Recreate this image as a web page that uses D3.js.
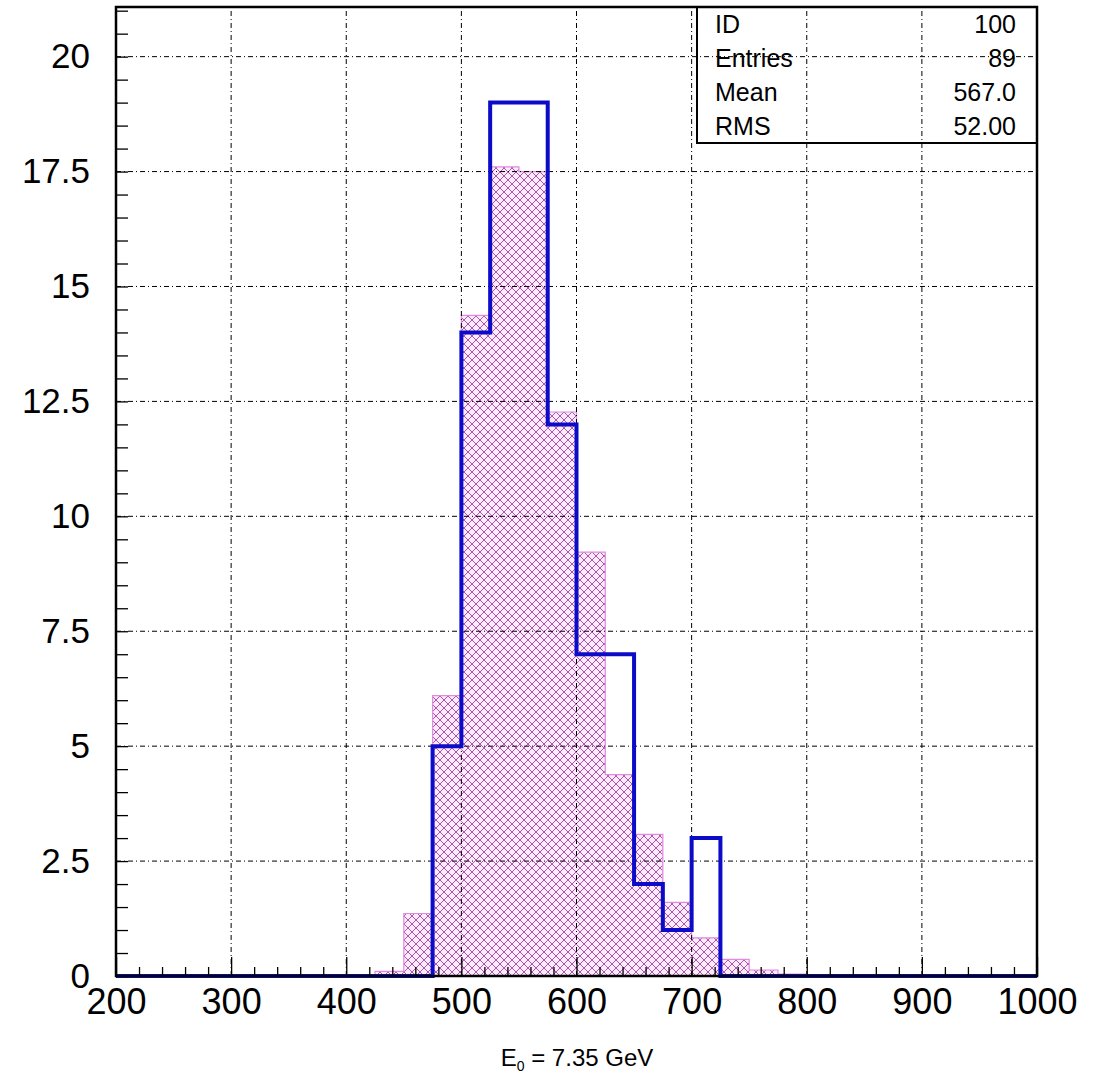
<!DOCTYPE html>
<html>
<head>
<meta charset="utf-8">
<script src="https://cdn.jsdelivr.net/npm/d3@7"></script>
<style>
  body { margin: 0; background: #fff; }
  text { font-family: "Liberation Sans", Arial, sans-serif; fill: #000; }
</style>
</head>
<body>
<svg width="1101" height="1073"></svg>
<script>
// histogram binning: 32 bins of 25 from 200 to 1000
const xMin = 200, binWidth = 25, nBins = 32;

// hatched (reference) histogram, one value per bin
const refCounts = [0,0,0,0,0,0,0,0,0,0.1,1.36,6.1,14.37,17.6,17.5,12.27,9.22,4.38,3.08,1.6,0.83,0.36,0.13,0.04,0,0,0,0,0,0,0,0];
// blue (data) histogram, one value per bin
const dataCounts = [0,0,0,0,0,0,0,0,0,0,0,5,14,19,19,12,7,7,2,1,3,0,0,0,0,0,0,0,0,0,0,0];

const xTicks = [200,300,400,500,600,700,800,900,1000];
const yTicks = [0,2.5,5,7.5,10,12.5,15,17.5,20];

const statLabels = ["ID","Entries","Mean","RMS"];
const statValues = ["100","89","567.0","52.00"];
const xTitle = "= 7.35 GeV";

const svg = d3.select("svg");
const padL = 116, padR = 1037, padT = 7, padB = 976;

let x = d3.scaleLinear().domain([200,1000]).range([padL,padR]);
let y = d3.scaleLinear().domain([0,21.08]).range([padB,padT]);

// hatch pattern
let pat = svg.append("defs").append("pattern")
  .attr("id","hatch")
  .attr("patternUnits","userSpaceOnUse")
  .attr("width",8).attr("height",8);
pat.append("rect").attr("width",8).attr("height",8).attr("fill","#fce9fc");
pat.append("path")
  .attr("d","M-1,-1 L9,9 M9,-1 L-1,9")
  .attr("stroke","#9e4a9e").attr("stroke-width",0.9).attr("fill","none");

// step outline for a list of counts
let stepPath = (counts)=>{
  let p = d3.path();
  p.moveTo(x(xMin), y(0));
  counts.forEach((c,i)=>{
    let x0 = xMin + i*binWidth;
    p.lineTo(x(x0), y(c));
    p.lineTo(x(x0+binWidth), y(c));
  });
  p.lineTo(x(xMin + nBins*binWidth), y(0));
  return p.toString();
}

let refBins = refCounts.map((c,i)=>({x0: xMin+i*binWidth, c: c})).filter(d=>d.c>0);

svg.append("g").selectAll("rect")
  .data(refBins)
  .enter()
  .append("rect")
  .attr("x", d=>x(d.x0))
  .attr("width", d=>x(d.x0+binWidth)-x(d.x0))
  .attr("y", d=>y(d.c))
  .attr("height", d=>y(0)-y(d.c))
  .attr("fill","url(#hatch)");

svg.append("path")
  .attr("d", stepPath(refCounts))
  .attr("fill","none")
  .attr("stroke","#e08ae0")
  .attr("stroke-width",1.2);

// grid
let grid = svg.append("g")
  .attr("stroke","#000")
  .attr("stroke-width",1)
  .attr("stroke-dasharray","5,3,1,3");
grid.selectAll("line.v")
  .data(xTicks.slice(1,-1))
  .enter().append("line")
  .attr("x1",d=>x(d)).attr("x2",d=>x(d))
  .attr("y1",y.range()[0]).attr("y2",y.range()[1]);
grid.selectAll("line.h")
  .data(yTicks.slice(1))
  .enter().append("line")
  .attr("y1",d=>y(d)).attr("y2",d=>y(d))
  .attr("x1",padL).attr("x2",padR);

// blue histogram
svg.append("path")
  .attr("d", stepPath(dataCounts))
  .attr("fill","none")
  .attr("stroke","#0c0cc8")
  .attr("stroke-width",4)
  .attr("stroke-linejoin","miter");

// axes
let yMinor = d3.range(0,21.01,0.5).filter(v=>v%2.5!==0);
let xMinor = d3.range(200,1000,20).filter(v=>v%100!==0);

let yAxis = svg.append("g").attr("transform",`translate(${padL},0)`)
  .call(d3.axisLeft(y).tickValues(yTicks).tickSize(-12).tickPadding(26).tickFormat(d3.format("~g")));
svg.append("g").attr("transform",`translate(${padL},0)`)
  .call(d3.axisLeft(y).tickValues(yMinor).tickSize(-12).tickFormat(""));

let xAxis = svg.append("g").attr("transform",`translate(0,${padB})`)
  .call(d3.axisBottom(x).tickValues(xTicks).tickSize(-19).tickPadding(12).tickFormat(d3.format("d")));
svg.append("g").attr("transform",`translate(0,${padB})`)
  .call(d3.axisBottom(x).tickValues(xMinor).tickSize(-9).tickFormat(""));

svg.selectAll(".domain").remove();
svg.selectAll(".tick line").attr("stroke","#000").attr("stroke-width",1.3);
yAxis.selectAll("text").attr("font-size",35).attr("font-family","Liberation Sans, Arial");
xAxis.selectAll("text").attr("font-size",36).attr("font-family","Liberation Sans, Arial");

// frame
svg.append("rect")
  .attr("x",padL).attr("y",padT)
  .attr("width",padR-padL).attr("height",padB-padT)
  .attr("fill","none").attr("stroke","#000").attr("stroke-width",2.5);

// stats box
let box = svg.append("g");
box.append("rect")
  .attr("x",697).attr("y",padT)
  .attr("width",padR-697).attr("height",143-padT)
  .attr("fill","none").attr("stroke","#000").attr("stroke-width",2);
box.selectAll("text.l")
  .data(statLabels)
  .enter().append("text")
  .attr("x",715).attr("y",(d,i)=>33+i*34)
  .attr("font-size",25)
  .text(d=>d);
box.selectAll("text.r")
  .data(statValues)
  .enter().append("text")
  .attr("x",1016).attr("y",(d,i)=>33+i*34)
  .attr("font-size",25)
  .attr("text-anchor","end")
  .text(d=>d);

// x title
let t = svg.append("text")
  .attr("x",577).attr("y",1066)
  .attr("text-anchor","middle")
  .attr("font-size",24);
t.append("tspan").text("E");
t.append("tspan").attr("font-size",14).attr("dy",5).text("0");
t.append("tspan").attr("dy",-5).text(" " + xTitle);
</script>
</body>
</html>
